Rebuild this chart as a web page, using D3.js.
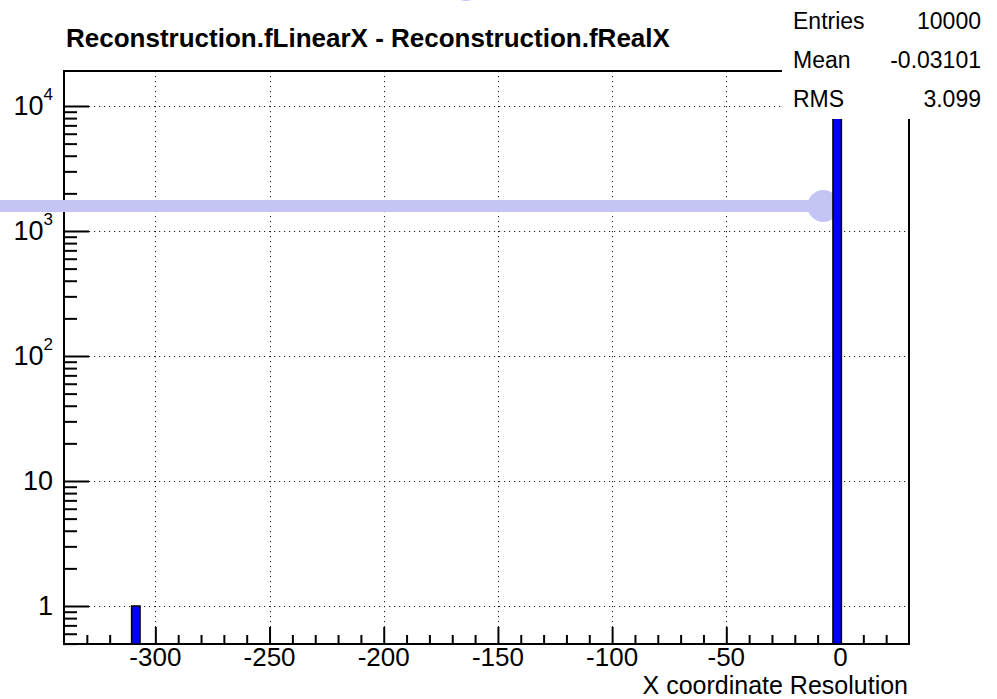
<!DOCTYPE html>
<html>
<head>
<meta charset="utf-8">
<script src="https://cdn.jsdelivr.net/npm/d3@7"></script>
<style>
  html, body { margin: 0; padding: 0; background: #fff; }
  svg { display: block; }
  text { font-family: "Liberation Sans", Arial, Helvetica, sans-serif; fill: #000; }
</style>
</head>
<body>
<svg id="chart" width="997" height="699"></svg>
<script>
// ---- data ----
const titleText = "Reconstruction.fLinearX - Reconstruction.fRealX";
const xAxisTitle = "X coordinate Resolution";
const xDomain = [-340, 30];
const yDomain = [0.4966, 19050];
const binWidth = 3.7;
const binLow = [-310.4, -3.3];
const binCount = [1, 9999];
const xMajorTicks = [-300, -250, -200, -150, -100, -50, 0];
const xMinorTicks = [-330, -320, -310, -290, -280, -270, -260, -240, -230, -220, -210, -190, -180, -170, -160,
                     -140, -130, -120, -110, -90, -80, -70, -60, -40, -30, -20, -10, 10, 20];
const yMajorTicks = [1, 10, 100, 1000, 10000];
const yMajorLabels = [["1", ""], ["10", ""], ["10", "2"], ["10", "3"], ["10", "4"]];
const statNames = ["Entries", "Mean", "RMS"];
const statValues = ["10000", "-0.03101", "3.099"];
const pointer = { x: -7.5, y: 1585 }; // highlight overlay in data units

// ---- layout ----
const W = 997, H = 699;
const m = { left: 64, right: 909, top: 71, bottom: 644 };
const svg = d3.select("#chart");

const x = d3.scaleLinear().domain(xDomain).range([m.left, m.right]);
const y = d3.scaleLog().domain(yDomain).range([m.bottom, m.top]);

// minor y ticks 2..9 per decade within domain
const yMinorTicks = [];
for (let e = -1; e <= 4; e++) {
  for (let k = 2; k <= 9; k++) {
    const v = k * Math.pow(10, e);
    if (v >= yDomain[0] && v <= yDomain[1]) yMinorTicks.push(v);
  }
}

// ---- grid ----
const grid = svg.append("g").attr("stroke", "#222").attr("stroke-width", 1)
  .attr("stroke-dasharray", "1.2,3.8");
grid.selectAll("line.gx").data(xMajorTicks).join("line")
  .attr("x1", d => Math.round(x(d)) + 0.5).attr("x2", d => Math.round(x(d)) + 0.5)
  .attr("y1", m.top).attr("y2", m.bottom);
grid.selectAll("line.gy").data(yMajorTicks).join("line")
  .attr("y1", d => Math.round(y(d)) + 0.5).attr("y2", d => Math.round(y(d)) + 0.5)
  .attr("x1", m.left).attr("x2", m.right);

// ---- axes (ticks inward) ----
const axStyle = g => {
  g.select(".domain").remove();
  g.selectAll(".tick line").attr("stroke", "#000").attr("stroke-width", 2);
  g.selectAll(".tick text").remove();
};
svg.append("g").attr("transform", `translate(0,${m.bottom})`)
  .call(d3.axisBottom(x).tickValues(xMajorTicks).tickSize(-17).tickFormat(""))
  .call(axStyle);
svg.append("g").attr("transform", `translate(0,${m.bottom})`)
  .call(d3.axisBottom(x).tickValues(xMinorTicks).tickSize(-9).tickFormat(""))
  .call(axStyle);
svg.append("g").attr("transform", `translate(${m.left},0)`)
  .call(d3.axisLeft(y).tickValues(yMajorTicks).tickSize(-25).tickFormat(""))
  .call(axStyle);
svg.append("g").attr("transform", `translate(${m.left},0)`)
  .call(d3.axisLeft(y).tickValues(yMinorTicks).tickSize(-13).tickFormat(""))
  .call(axStyle);

// frame
svg.append("rect").attr("x", m.left).attr("y", m.top)
  .attr("width", m.right - m.left).attr("height", m.bottom - m.top)
  .attr("fill", "none").attr("stroke", "#000").attr("stroke-width", 2);

// ---- overlay highlight (under bars) ----
const ov = "#c4c4f5";
svg.append("line").attr("x1", 0).attr("x2", x(pointer.x))
  .attr("y1", y(pointer.y)).attr("y2", y(pointer.y))
  .attr("stroke", ov).attr("stroke-width", 12);
svg.append("circle").attr("cx", x(pointer.x)).attr("cy", y(pointer.y)).attr("r", 16).attr("fill", ov);
svg.append("circle").attr("cx", 466).attr("cy", -15).attr("r", 16).attr("fill", ov);

// ---- bars ----
const bins = binLow.map((lo, i) => ({ lo, hi: lo + binWidth, n: binCount[i] }));
svg.append("g").selectAll("rect").data(bins).join("rect")
  .attr("x", d => x(d.lo)).attr("width", d => x(d.hi) - x(d.lo))
  .attr("y", d => y(d.n)).attr("height", d => y(yDomain[0]) - y(d.n))
  .attr("fill", "#0000ff").attr("stroke", "#000").attr("stroke-width", 1.5);

// ---- tick labels ----
svg.append("g").selectAll("text").data(xMajorTicks).join("text")
  .attr("x", d => x(d)).attr("y", 666)
  .attr("text-anchor", "middle").attr("font-size", 26)
  .text(d => d);

const yl = svg.append("g").selectAll("text").data(yMajorTicks).join("text")
  .attr("x", 53).attr("y", d => y(d)).attr("dy", "0.35em")
  .attr("text-anchor", "end").attr("font-size", 27);
yl.each(function (d, i) {
  const t = d3.select(this);
  const [base, sup] = yMajorLabels[i];
  t.append("tspan").text(base);
  if (sup) t.append("tspan").attr("dy", -15).attr("font-size", 17).text(sup);
});

// axis title
svg.append("text").attr("x", 908).attr("y", 693.5).attr("text-anchor", "end")
  .attr("font-size", 25).text(xAxisTitle);

// ---- stats box (covers frame corner) ----
svg.append("rect").attr("x", 782).attr("y", 0).attr("width", W - 782).attr("height", 119)
  .attr("fill", "#fff");
const st = svg.append("g");
st.selectAll("text.n").data(statNames).join("text").attr("class", "n")
  .attr("x", 793).attr("y", (d, i) => 29 + i * 39).attr("font-size", 23).text(d => d);
st.selectAll("text.v").data(statValues).join("text").attr("class", "v")
  .attr("x", 981).attr("y", (d, i) => 29 + i * 39).attr("font-size", 23)
  .attr("text-anchor", "end").text(d => d);

// title
svg.append("text").attr("x", 66).attr("y", 47).attr("font-size", 26).attr("font-weight", "bold")
  .text(titleText);
</script>
</body>
</html>
